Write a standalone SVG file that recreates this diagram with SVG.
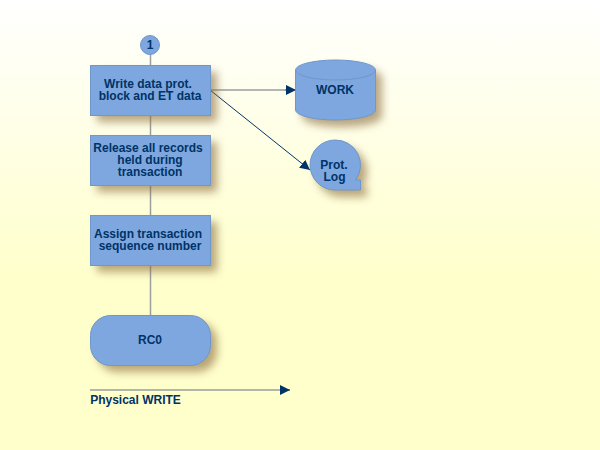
<svg xmlns="http://www.w3.org/2000/svg" width="600" height="450" viewBox="0 0 600 450">
<defs>
<linearGradient id="bg" x1="0" y1="0" x2="0" y2="1"><stop offset="0" stop-color="#ffffff"/><stop offset="0.62" stop-color="#ffffcc"/><stop offset="1" stop-color="#ffffcc"/></linearGradient>
<filter id="sh" x="-30%" y="-30%" width="160%" height="160%"><feGaussianBlur stdDeviation="4"/></filter>
<marker id="ah" markerUnits="userSpaceOnUse" markerWidth="12" markerHeight="10" refX="10" refY="5" orient="auto"><path d="M0 0L10 5L0 10Z" fill="#003366"/></marker>
</defs>
<style>
.n{fill:#7da7de;stroke:#6f97cc;stroke-width:1}
.s{fill:#8a6a3a;opacity:.6;filter:url(#sh)}
.t{font:bold 12px "Liberation Sans",Arial,sans-serif;fill:#003366;text-anchor:middle}
.g{stroke:#9a9f9f;stroke-width:1.5;fill:none}
.d{stroke:#003366;stroke-width:1;fill:none}
</style>
<rect width="600" height="450" fill="url(#bg)"/>
<g id="connectors">
<path class="g" d="M150.500 54V65M150.500 115V135M150.500 185V215M150.500 265V315"/>
<path class="g" d="M210 90H285"/><path class="d" d="M285 90H296" marker-end="url(#ah)"/>
<path class="d" d="M210 90L310 170" marker-end="url(#ah)"/>
<path class="g" d="M90 390H280"/><path class="d" d="M280 390H290" marker-end="url(#ah)"/>
</g>
<g id="n1"><circle class="n" cx="150" cy="45" r="9.500"/><text class="t" x="150" y="49">1</text></g>
<g id="n2"><rect class="s" x="97" y="72" width="120" height="50"/><rect class="n" x="90.500" y="65.500" width="120" height="50"/><text class="t" x="148" y="88">Write data prot.</text><text class="t" x="150" y="100">block and ET data</text></g>
<g id="n3"><rect class="s" x="97" y="142" width="120" height="50"/><rect class="n" x="90.500" y="135.500" width="120" height="50"/><text class="t" x="148" y="152">Release all records</text><text class="t" x="150" y="164">held during</text><text class="t" x="150" y="176">transaction</text></g>
<g id="n4"><rect class="s" x="97" y="222" width="120" height="50"/><rect class="n" x="90.500" y="215.500" width="120" height="50"/><text class="t" x="148" y="238">Assign transaction</text><text class="t" x="150" y="250">sequence number</text></g>
<g id="n5"><rect class="s" x="97" y="322" width="120" height="50" rx="20"/><rect class="n" x="90.500" y="315.500" width="120" height="50" rx="20"/><text class="t" x="150" y="344">RC0</text></g>
<g id="work"><path class="s" d="M302 77A40 10 0 0 1 382 77V117A40 10 0 0 1 302 117Z"/><path class="n" d="M295.500 70A40 10 0 0 1 375.500 70V110A40 10 0 0 1 295.500 110Z"/><path class="n" style="fill:none" d="M295.500 70A40 10 0 0 0 375.500 70"/><text class="t" x="335" y="94">WORK</text></g>
<g id="log"><path class="s" d="M341 147A25 25 0 0 1 362 187H367V197H341A25 25 0 0 1 341 147Z"/><path class="n" d="M335 140A25 25 0 0 1 355.500 180H360.500V190H335A25 25 0 0 1 335 140Z"/><text class="t" x="334" y="169">Prot.</text><text class="t" x="334.500" y="181">Log</text></g>
<g id="legend"><text class="t" x="135.500" y="404">Physical WRITE</text></g>
</svg>
